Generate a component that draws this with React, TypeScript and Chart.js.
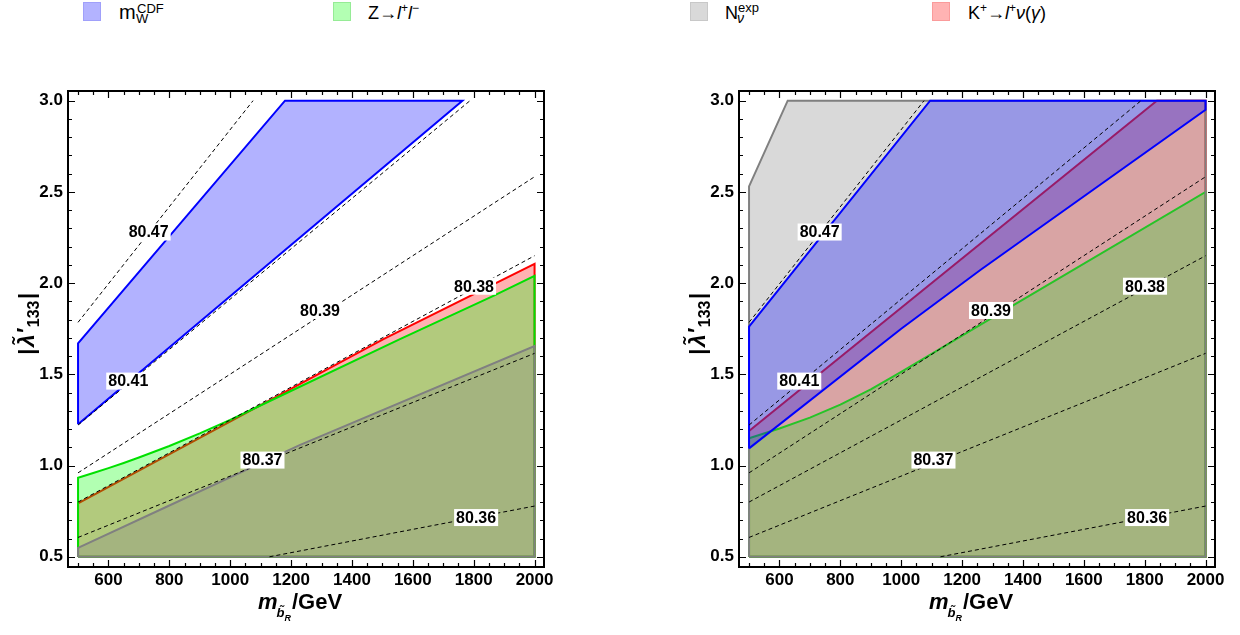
import React, { useEffect, useRef } from 'react';
import { Chart, registerables } from 'chart.js';

Chart.register(...registerables);

const FONT = '"Liberation Sans", Arial, Helvetica, sans-serif';

// ---- axes ----
const X_MIN = 467;
const X_MAX = 2031;
const Y_MIN = 0.444;
const Y_MAX = 3.053;
const xTickValues = [600, 800, 1000, 1200, 1400, 1600, 1800, 2000];
const yTickValues = [0.5, 1.0, 1.5, 2.0, 2.5, 3.0];
const xMinorStep = 50;
const yMinorStep = 0.1;

// ---- left panel regions (closed polygons) ----
const leftRedX = [500, 500, 1100, 1502, 2000, 2000, 500];
const leftRedY = [0.5, 0.793, 1.331, 1.692, 2.105, 0.5, 0.5];
const leftGreenX = [500, 500, 550, 600, 650, 700, 800, 900, 1000, 1075, 1556, 1863, 2000, 2000, 500];
const leftGreenY = [0.5, 0.933, 0.959, 0.986, 1.014, 1.044, 1.107, 1.176, 1.25, 1.31, 1.692, 1.929, 2.04, 0.5, 0.5];
const leftGrayX = [500, 500, 800, 1228, 2000, 2000, 500];
const leftGrayY = [0.5, 0.549, 0.781, 1.112, 1.655, 0.5, 0.5];
const leftBlueX = [500, 500, 1180, 1763, 500];
const leftBlueY = [1.226, 1.67, 3.0, 3.0, 1.226];

// ---- right panel regions ----
const rightRedX = [500, 500, 1840, 2000, 2000, 500];
const rightRedY = [0.5, 1.19, 3.0, 3.0, 0.5, 0.5];
const rightGreenX = [500, 500, 600, 700, 800, 900, 1000, 1100, 1200, 1369, 2000, 2000, 500];
const rightGreenY = [0.5, 1.15, 1.203, 1.263, 1.334, 1.418, 1.513, 1.612, 1.712, 1.879, 2.5, 0.5, 0.5];
const rightGrayX = [500, 500, 627, 2000, 2000, 500];
const rightGrayY = [0.5, 2.53, 3.0, 3.0, 0.5, 0.5];
const rightBlueX = [500, 500, 1095, 2000, 2000, 1260, 1000, 500];
const rightBlueY = [1.094, 1.761, 3.0, 3.0, 2.95, 2.072, 1.75, 1.094];

// ---- m_W contour lines (dashed) ----
const contourLevels = ['80.47', '80.41', '80.39', '80.38', '80.37', '80.36'];
const contourX = [
  [500, 1075],
  [500, 1788],
  [500, 2000],
  [500, 2000],
  [500, 2000],
  [1129, 2000],
];
const contourY = [
  [1.785, 3.0],
  [1.222, 3.0],
  [0.96, 2.583],
  [0.8, 2.15],
  [0.606, 1.615],
  [0.5, 0.778],
];
const contourLabelX = [732, 665, 1295, 1801, 1106, 1808];
const contourLabelY = [2.28, 1.463, 1.85, 1.983, 1.03, 0.715];

const BLUE = { fill: 'rgba(0,0,255,0.3)', line: '#0000ff' };
const GREEN = { fill: 'rgba(0,255,0,0.3)', line: '#00e000' };
const GRAY = { fill: 'rgba(128,128,128,0.3)', line: '#808080' };
const RED = { fill: 'rgba(255,0,0,0.3)', line: '#ff0000' };

function region(xs: number[], ys: number[], c: { fill: string; line: string }, order: number) {
  return {
    data: xs.map((x, i) => ({ x, y: ys[i] })),
    showLine: true,
    fill: 'shape',
    backgroundColor: c.fill,
    borderColor: c.line,
    borderWidth: 2,
    pointRadius: 0,
    tension: 0,
    order,
  };
}

function contourDatasets() {
  return contourX.map((xs, k) => ({
    data: xs.map((x, i) => ({ x, y: contourY[k][i] })),
    showLine: true,
    fill: false,
    borderColor: '#000',
    borderWidth: 1,
    borderDash: [4, 3],
    pointRadius: 0,
    order: 0,
  }));
}

const labelPlugin = {
  id: 'contourLabels',
  afterDatasetsDraw(chart: any) {
    const { ctx } = chart;
    const xs = chart.scales.x;
    const ys = chart.scales.y;
    ctx.save();
    ctx.font = `bold 16px ${FONT}`;
    ctx.textAlign = 'center';
    ctx.textBaseline = 'middle';
    contourLevels.forEach((t, i) => {
      const px = xs.getPixelForValue(contourLabelX[i]);
      const py = ys.getPixelForValue(contourLabelY[i]);
      const w = ctx.measureText(t).width + 4;
      const h = 17;
      ctx.fillStyle = '#fff';
      ctx.fillRect(px - w / 2, py - h / 2, w, h);
      ctx.fillStyle = '#000';
      ctx.fillText(t, px, py + 1);
    });
    ctx.restore();
  },
};

const framePlugin = {
  id: 'frame',
  afterDraw(chart: any) {
    const { ctx, chartArea } = chart;
    const { left, right, top, bottom } = chartArea;
    const xs = chart.scales.x;
    const ys = chart.scales.y;
    ctx.save();
    ctx.strokeStyle = '#000';
    ctx.lineWidth = 1.2;
    for (let v = 500; v <= 2000 + 1e-6; v += xMinorStep) {
      const major = xTickValues.includes(v);
      const len = major ? 7 : 4;
      const px = Math.round(xs.getPixelForValue(v)) + 0.5;
      ctx.beginPath();
      ctx.moveTo(px, bottom);
      ctx.lineTo(px, bottom - len);
      ctx.moveTo(px, top);
      ctx.lineTo(px, top + len);
      ctx.stroke();
    }
    for (let i = 0; i <= 25; i++) {
      const v = 0.5 + i * yMinorStep;
      const major = i % 5 === 0;
      const len = major ? 7 : 4;
      const py = Math.round(ys.getPixelForValue(v)) + 0.5;
      ctx.beginPath();
      ctx.moveTo(left, py);
      ctx.lineTo(left + len, py);
      ctx.moveTo(right, py);
      ctx.lineTo(right - len, py);
      ctx.stroke();
    }
    ctx.lineWidth = 2;
    ctx.strokeRect(left, top, right - left, bottom - top);

    // x title  m_{b~_R}/GeV
    ctx.fillStyle = '#000';
    ctx.textAlign = 'left';
    ctx.textBaseline = 'alphabetic';
    const x0 = left + 190;
    const base = 609;
    ctx.font = `italic bold 22px ${FONT}`;
    ctx.fillText('m', x0, base);
    const mw = ctx.measureText('m').width;
    const bx = x0 + mw - 1;
    ctx.font = `italic bold 13px ${FONT}`;
    ctx.fillText('b\u0303', bx, base + 8);
    const bw = ctx.measureText('b').width;
    const rx = bx + bw;
    ctx.font = `italic bold 9px ${FONT}`;
    ctx.fillText('R', rx, base + 12);
    const rw = ctx.measureText('R').width;
    ctx.font = `bold 22px ${FONT}`;
    ctx.fillText('/GeV', rx + rw + 1, base);

    // y title |λ~'_133|
    ctx.save();
    ctx.translate(left - 34, (top + bottom) / 2 - 6);
    ctx.rotate(-Math.PI / 2);
    const parts = [
      { t: '|', f: `bold 22px ${FONT}`, dy: 0 },
      { t: 'λ\u0303\u2032', f: `italic bold 23px ${FONT}`, dy: 0 },
      { t: '133', f: `bold 16px ${FONT}`, dy: 5 },
      { t: '|', f: `bold 22px ${FONT}`, dy: 0 },
    ];
    let total = 0;
    const widths = parts.map((p) => {
      ctx.font = p.f;
      const w = ctx.measureText(p.t).width + 1.5;
      total += w;
      return w;
    });
    let cx = -total / 2;
    parts.forEach((p, i) => {
      ctx.font = p.f;
      ctx.fillText(p.t, cx, p.dy);
      cx += widths[i];
    });
    ctx.restore();
    ctx.restore();
  },
};

function Panel({ left, yWidth, padRight, regions }: { left: number; yWidth: number; padRight: number; regions: any[] }) {
  const ref = useRef<HTMLCanvasElement>(null);
  useEffect(() => {
    const chart = new Chart(ref.current as HTMLCanvasElement, {
      type: 'scatter',
      data: { datasets: [...regions, ...contourDatasets()] as any },
      options: {
        animation: false,
        responsive: false,
        maintainAspectRatio: false,
        layout: { padding: { left: 0, right: padRight, top: 91, bottom: 0 } },
        plugins: { legend: { display: false }, tooltip: { enabled: false } },
        scales: {
          x: {
            type: 'linear',
            min: X_MIN,
            max: X_MAX,
            afterBuildTicks: (s: any) => {
              s.ticks = xTickValues.map((v) => ({ value: v }));
            },
            afterFit: (s: any) => {
              s.height = 68;
            },
            grid: { display: false, drawTicks: false, tickLength: 0 },
            border: { display: false },
            ticks: {
              autoSkip: false,
              maxRotation: 0,
              padding: 3,
              color: '#000',
              font: { family: FONT, size: 17, weight: 'bold' },
              callback: (v: any) => String(v),
            },
          },
          y: {
            type: 'linear',
            min: Y_MIN,
            max: Y_MAX,
            afterBuildTicks: (s: any) => {
              s.ticks = yTickValues.map((v) => ({ value: v }));
            },
            afterFit: (s: any) => {
              s.width = yWidth;
            },
            grid: { display: false, drawTicks: false, tickLength: 0 },
            border: { display: false },
            ticks: {
              autoSkip: false,
              padding: 5,
              color: '#000',
              font: { family: FONT, size: 17, weight: 'bold' },
              callback: (v: any) => Number(v).toFixed(1),
            },
          },
        },
      } as any,
      plugins: [labelPlugin, framePlugin],
    });
    return () => chart.destroy();
  }, []);
  return (
    <canvas
      ref={ref}
      width={620}
      height={635}
      style={{ position: 'absolute', left, top: 0, width: 620, height: 635 }}
    />
  );
}

const sq = (left: number, bg: string, bd: string): React.CSSProperties => ({
  position: 'absolute',
  left,
  top: 2,
  width: 18,
  height: 19,
  background: bg,
  border: `1px solid ${bd}`,
  boxSizing: 'border-box',
});

const txt = (left: number, baseline: number, size: number, extra: React.CSSProperties = {}): React.CSSProperties => ({
  position: 'absolute',
  left,
  top: baseline - 0.8465 * size,
  fontSize: size,
  lineHeight: 1,
  fontFamily: FONT,
  color: '#000',
  whiteSpace: 'nowrap',
  ...extra,
});

const supStyle: React.CSSProperties = { fontSize: 12, position: 'relative', top: -7, lineHeight: 0, verticalAlign: 'baseline' };

function Legend() {
  return (
    <div>
      <div style={sq(83, 'rgb(179,179,255)', 'rgb(160,160,250)')} />
      <span style={txt(119, 19, 20)}>m</span>
      <span style={txt(137, 12.7, 13)}>CDF</span>
      <span style={txt(136, 22.7, 13)}>W</span>

      <div style={sq(333, 'rgb(179,255,179)', 'rgb(150,235,150)')} />
      <span style={txt(368, 19.3, 18)}>
        Z→<i>l</i>
        <span style={supStyle}>+</span>
        <i>l</i>
        <span style={supStyle}>−</span>
      </span>

      <div style={sq(690, 'rgb(217,217,217)', 'rgb(200,200,200)')} />
      <span style={txt(725, 19.3, 18)}>N</span>
      <span style={txt(738, 12.3, 13)}>exp</span>
      <span style={txt(737, 23, 14, { fontStyle: 'italic' })}>ν</span>

      <div style={sq(932, 'rgb(255,179,179)', 'rgb(250,155,155)')} />
      <span style={txt(968, 19.3, 18)}>
        K<span style={supStyle}>+</span>→<i>l</i>
        <span style={supStyle}>+</span>
        <i>ν</i>(<i>γ</i>)
      </span>
    </div>
  );
}

export default function App() {
  const leftRegions = [
    region(leftRedX, leftRedY, RED, 4),
    region(leftGreenX, leftGreenY, GREEN, 3),
    region(leftGrayX, leftGrayY, GRAY, 2),
    region(leftBlueX, leftBlueY, BLUE, 1),
  ];
  const rightRegions = [
    region(rightRedX, rightRedY, RED, 4),
    region(rightGreenX, rightGreenY, GREEN, 3),
    region(rightGrayX, rightGrayY, GRAY, 2),
    region(rightBlueX, rightBlueY, BLUE, 1),
  ];
  return (
    <div style={{ position: 'absolute', left: 0, top: 0, width: 1240, height: 635, background: '#fff', overflow: 'hidden' }}>
      <Legend />
      <Panel left={0} yWidth={68} padRight={76} regions={leftRegions} />
      <Panel left={620} yWidth={119} padRight={25} regions={rightRegions} />
    </div>
  );
}
